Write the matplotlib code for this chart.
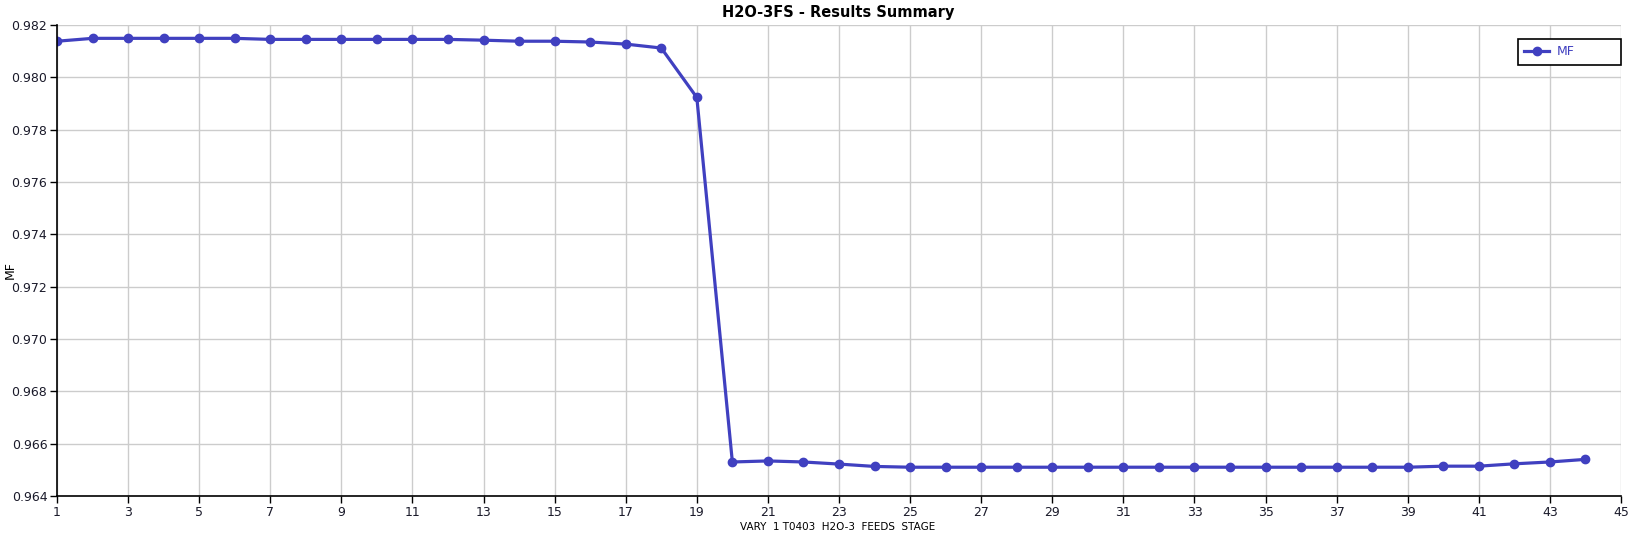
import matplotlib
matplotlib.use("Agg")
import matplotlib.pyplot as plt
import numpy as np

stages = list(range(1, 45))
mf = [0.98138, 0.98149, 0.98149, 0.98149, 0.98149, 0.98149, 0.98145, 0.98145,
      0.98145, 0.98145, 0.98145, 0.98145, 0.98142, 0.98138, 0.98138, 0.98135,
      0.98127, 0.98112, 0.97923, 0.96530, 0.96534, 0.96530, 0.96522, 0.96513,
      0.96510, 0.96510, 0.96510, 0.96510, 0.96510, 0.96510, 0.96510, 0.96510,
      0.96510, 0.96510, 0.96510, 0.96510, 0.96510, 0.96510, 0.96510, 0.96514,
      0.96514, 0.96523, 0.96530, 0.96540]
xticks = list(range(1, 46, 2))
yticks = [0.964, 0.966, 0.968, 0.970, 0.972, 0.974, 0.976, 0.978, 0.980, 0.982]

title = "H2O-3FS - Results Summary"
xlabel = "VARY  1 T0403  H2O-3  FEEDS  STAGE"
ylabel = "MF"
series_name = "MF"

W, H = 1640, 533
fig = plt.figure(figsize=(W / 100, H / 100), dpi=100)
ax = fig.add_axes([57 / W, 1 - 496 / H, (1621 - 57) / W, (496 - 25) / H])

color = "#4040c0"
ax.plot(stages, mf, color=color, lw=2.3, marker="o", ms=6, label=series_name,
        solid_joinstyle="round")

ax.set_xlim(1, 45)
ax.set_ylim(0.964, 0.982)
ax.set_xticks(xticks)
ax.set_yticks(yticks)
ax.set_yticklabels([f"{v:.3f}" for v in yticks])
ax.grid(True, color="#cccccc", lw=1)
ax.set_axisbelow(True)
for s in ["top", "right"]:
    ax.spines[s].set_visible(False)
for s in ["left", "bottom"]:
    ax.spines[s].set_color("black")
    ax.spines[s].set_linewidth(1.2)
ax.tick_params(axis="both", direction="out", length=5, width=1, colors="black",
               labelsize=9, labelcolor="#1a1a2a")
ax.tick_params(axis="x", pad=2)
ax.tick_params(axis="y", pad=2)

fig.text(838 / W, 1 - 13 / H, title, ha="center", va="center",
         fontsize=10.5, fontweight="bold")
fig.text(10 / W, 1 - 270 / H, ylabel, rotation=90, ha="center", va="center",
         fontsize=9)
fig.text(838 / W, 0.5 / H, xlabel, ha="center", va="bottom", fontsize=7.5)

leg = ax.legend(loc="upper left",
                bbox_to_anchor=(1518 / W, 1 - 67 / H, 103 / W, 28 / H),
                bbox_transform=fig.transFigure, borderaxespad=0, mode="expand",
                fancybox=False, edgecolor="black", framealpha=1,
                fontsize=9, handlelength=2.0, borderpad=0.5, handletextpad=0.6,
                labelcolor=color)
leg.get_frame().set_linewidth(1.2)

fig.savefig("out.png", dpi=100)
